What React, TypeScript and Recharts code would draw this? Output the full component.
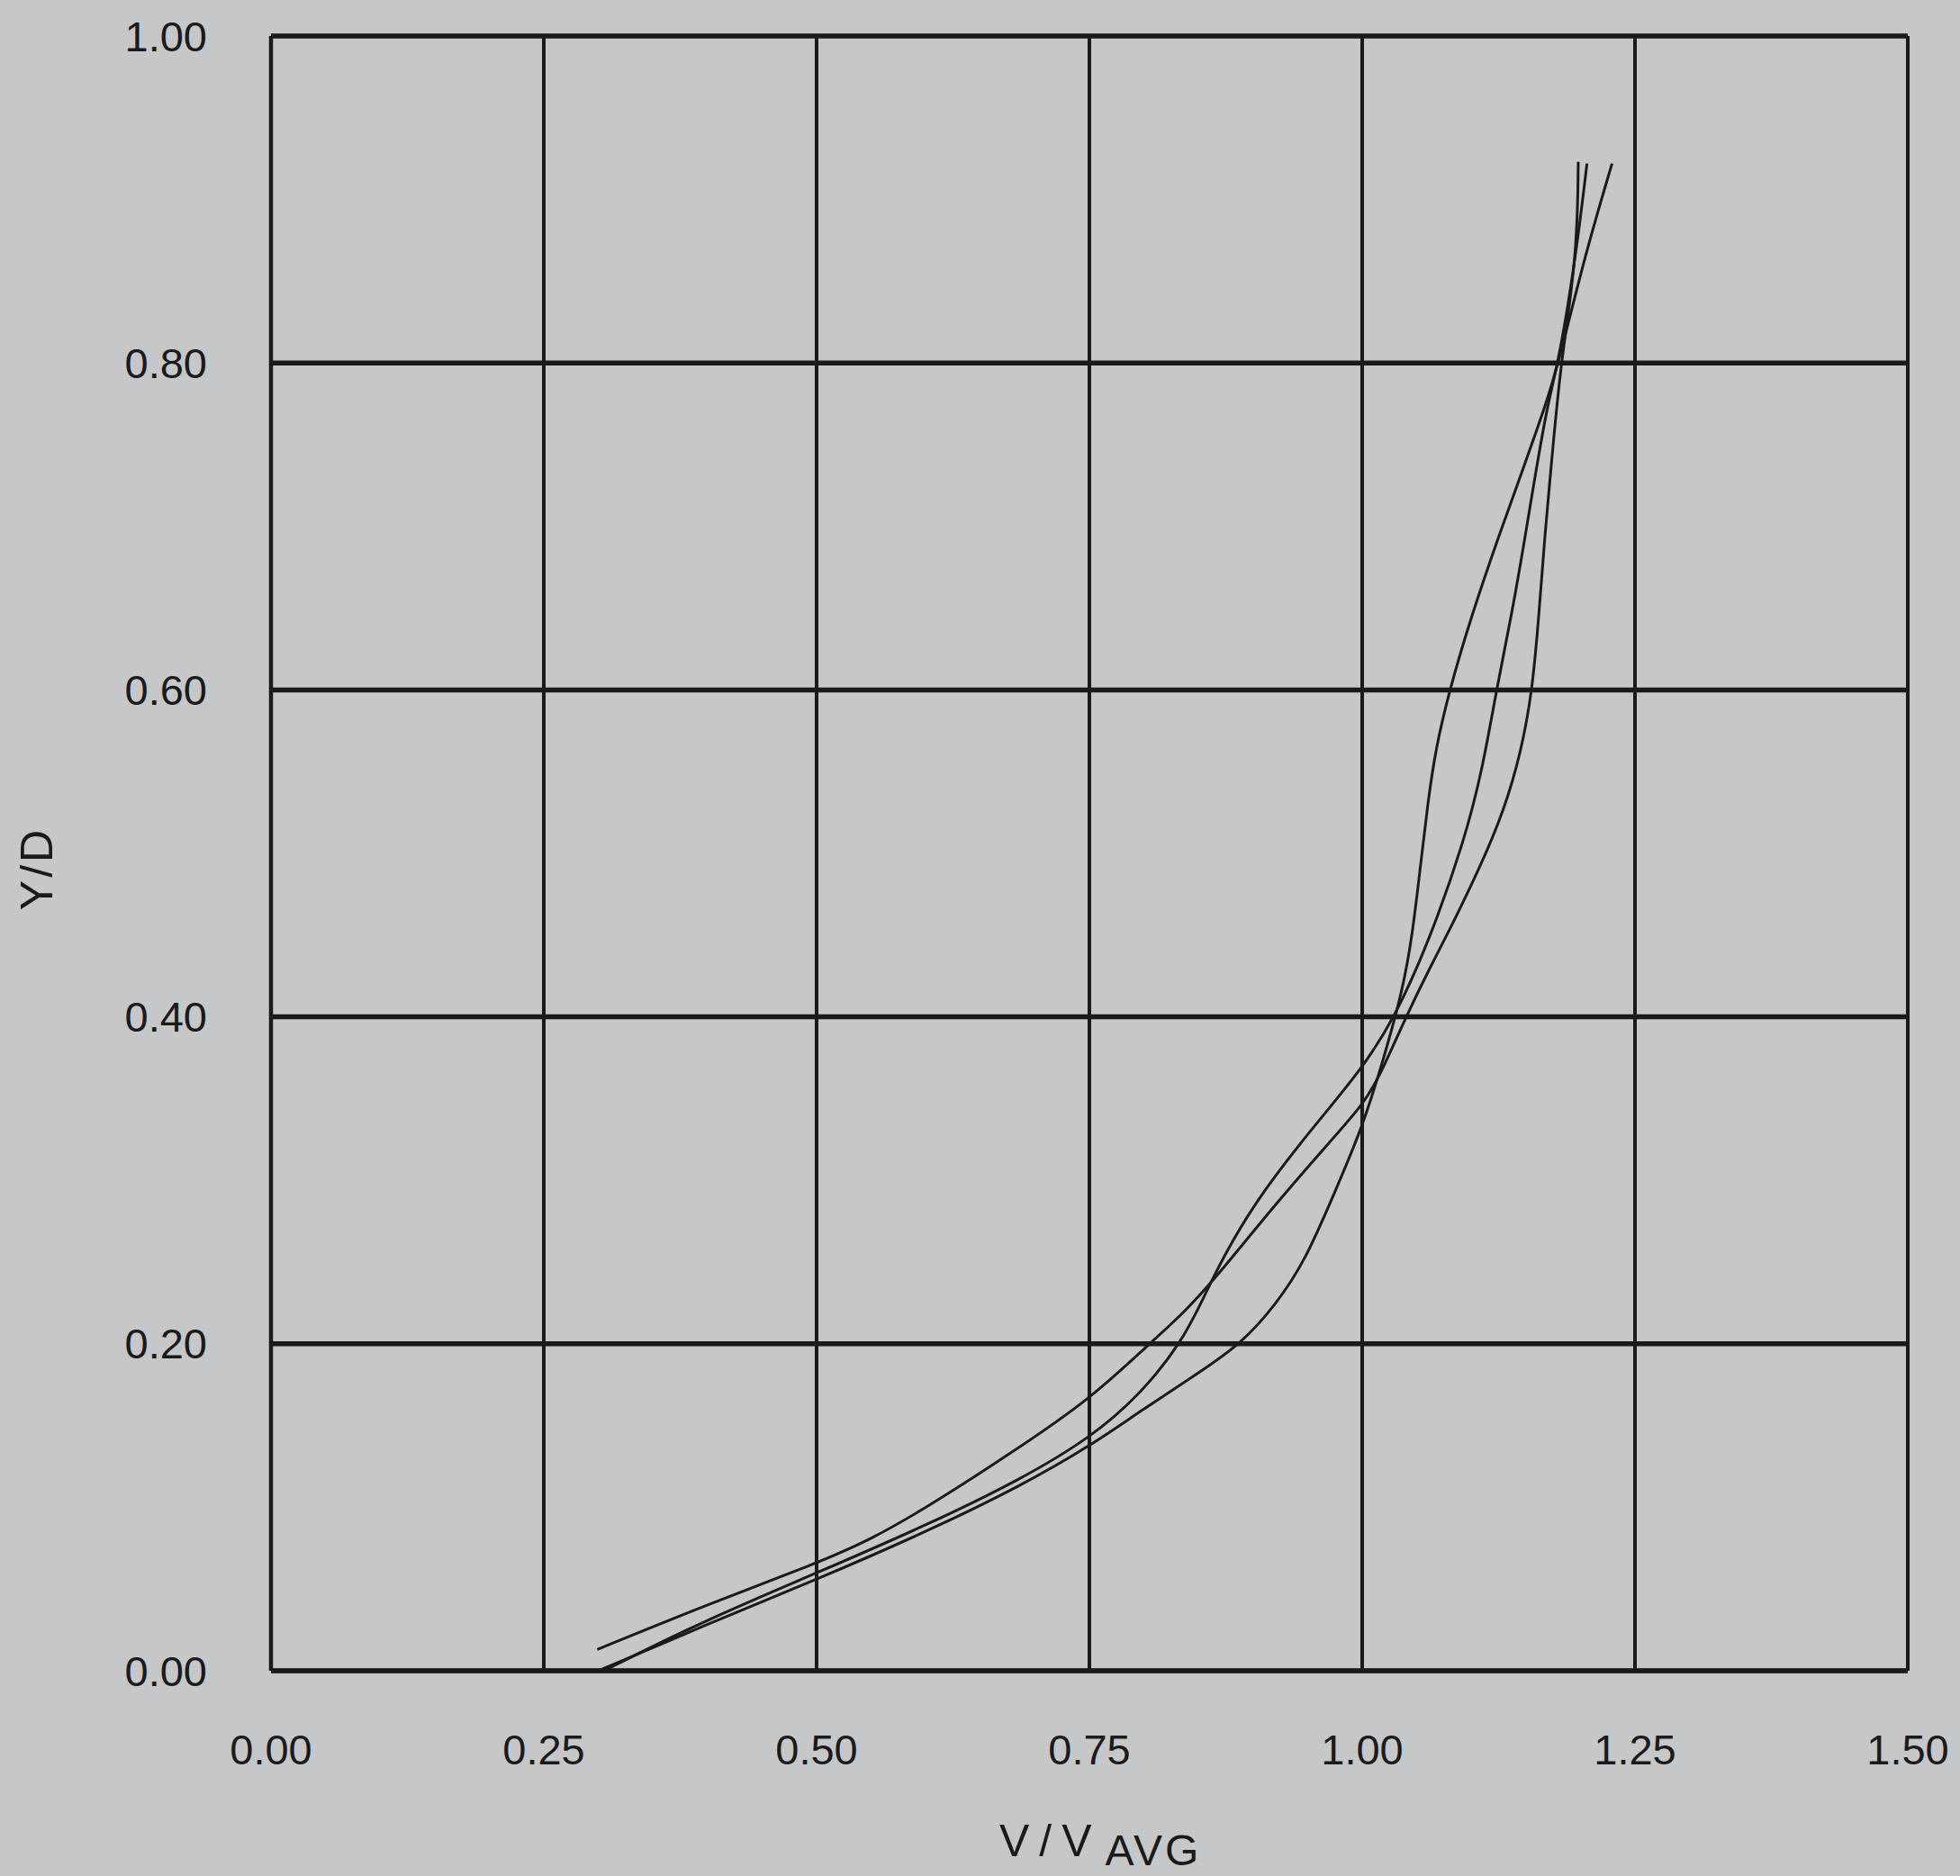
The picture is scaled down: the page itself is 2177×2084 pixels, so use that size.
import { LineChart, Line, XAxis, YAxis, CartesianGrid, Label } from 'recharts';

// three velocity profiles, V/Vavg against Y/D, read from bottom to top
const profile1V = [0.300, 0.398, 0.501, 0.604, 0.687, 0.752, 0.797, 0.852, 0.889, 0.921, 0.948, 0.975, 1.000, 1.020, 1.037, 1.046, 1.053, 1.060, 1.067, 1.080, 1.100, 1.124, 1.150, 1.168, 1.180, 1.205, 1.229];
const profile1Y = [0.000, 0.028, 0.056, 0.086, 0.113, 0.138, 0.159, 0.183, 0.200, 0.224, 0.251, 0.293, 0.332, 0.375, 0.416, 0.450, 0.490, 0.530, 0.563, 0.600, 0.645, 0.692, 0.740, 0.774, 0.800, 0.868, 0.922];

const profile2V = [0.305, 0.398, 0.501, 0.604, 0.687, 0.752, 0.795, 0.834, 0.856, 0.871, 0.901, 0.948, 1.000, 1.030, 1.060, 1.094, 1.111, 1.123, 1.137, 1.149, 1.169, 1.180, 1.196, 1.206];
const profile2Y = [0.000, 0.031, 0.060, 0.090, 0.117, 0.143, 0.168, 0.200, 0.230, 0.251, 0.286, 0.327, 0.368, 0.400, 0.444, 0.508, 0.554, 0.600, 0.646, 0.692, 0.774, 0.800, 0.866, 0.922];

const profile3V = [0.299, 0.398, 0.501, 0.549, 0.604, 0.687, 0.752, 0.805, 0.835, 0.863, 0.921, 0.975, 1.000, 1.015, 1.040, 1.062, 1.080, 1.107, 1.130, 1.146, 1.156, 1.162, 1.167, 1.175, 1.182, 1.197, 1.198];
const profile3Y = [0.013, 0.040, 0.066, 0.080, 0.101, 0.137, 0.167, 0.200, 0.218, 0.238, 0.286, 0.327, 0.346, 0.362, 0.400, 0.430, 0.453, 0.490, 0.526, 0.563, 0.600, 0.646, 0.692, 0.750, 0.800, 0.866, 0.923];

const xTicks = [0, 0.25, 0.5, 0.75, 1.0, 1.25, 1.5];
const yTicks = [0, 0.2, 0.4, 0.6, 0.8, 1.0];

// top to bottom, each profile drawn in the order it was traced
const toPoints = (vs: number[], ys: number[]) =>
  vs.map((v, i) => ({ v, y: ys[i] })).sort((a, b) => b.y - a.y);

const profiles = [
  toPoints(profile1V, profile1Y),
  toPoints(profile2V, profile2Y),
  toPoints(profile3V, profile3Y),
];

const ink = '#1a1a1a';
const font = '"Liberation Sans", Arial, sans-serif';
const tickStyle = { fill: ink, fontSize: 47, fontFamily: font };

const XTitle = ({ viewBox }: any) => {
  const x = viewBox.x + viewBox.width / 2 - 100;
  const y = viewBox.y + 206;
  return (
    <text x={x} y={y} fill={ink} fontFamily={font} fontSize={50}>
      <tspan letterSpacing={11}>V/V</tspan>
      <tspan dx={4} dy={10} fontSize={48} letterSpacing={3}>AVG</tspan>
    </text>
  );
};

const YTitle = ({ viewBox }: any) => {
  const x = viewBox.x + 58;
  const y = viewBox.y + viewBox.height / 2 + 17;
  return (
    <text x={x} y={y} transform={`rotate(-90, ${x}, ${y})`} textAnchor="middle"
      fill={ink} fontFamily={font} fontSize={50} letterSpacing={3}>
      Y/D
    </text>
  );
};

export default function App() {
  return (
    <div style={{ position: 'absolute', left: 0, top: 0, width: 2177, height: 2084, background: '#c6c7c9' }}>
      <LineChart width={2177} height={2084} margin={{ top: 40, right: 58, bottom: 0, left: 0 }}>
        <CartesianGrid horizontal={true} vertical={false} stroke={ink} strokeWidth={5.5} />
        <CartesianGrid horizontal={false} vertical={true} stroke={ink} strokeWidth={4} />
        <XAxis type="number" dataKey="v" domain={[0, 1.5]} ticks={xTicks} height={228}
          tickFormatter={(t: number) => t.toFixed(2)} tick={tickStyle} tickLine={false}
          tickSize={0} tickMargin={71} axisLine={{ stroke: ink, strokeWidth: 4.5 }}>
          <Label content={XTitle} />
        </XAxis>
        <YAxis type="number" dataKey="y" domain={[0, 1]} ticks={yTicks} width={301}
          tickFormatter={(t: number) => t.toFixed(2)} tick={tickStyle} tickLine={false}
          tickSize={0} tickMargin={71} axisLine={{ stroke: ink, strokeWidth: 4.5 }}>
          <Label content={YTitle} />
        </YAxis>
        {profiles.map((pts, i) => (
          <Line key={i} data={pts} dataKey="y" type="basis" stroke={ink} strokeWidth={3}
            dot={false} activeDot={false} isAnimationActive={false} />
        ))}
      </LineChart>
    </div>
  );
}
